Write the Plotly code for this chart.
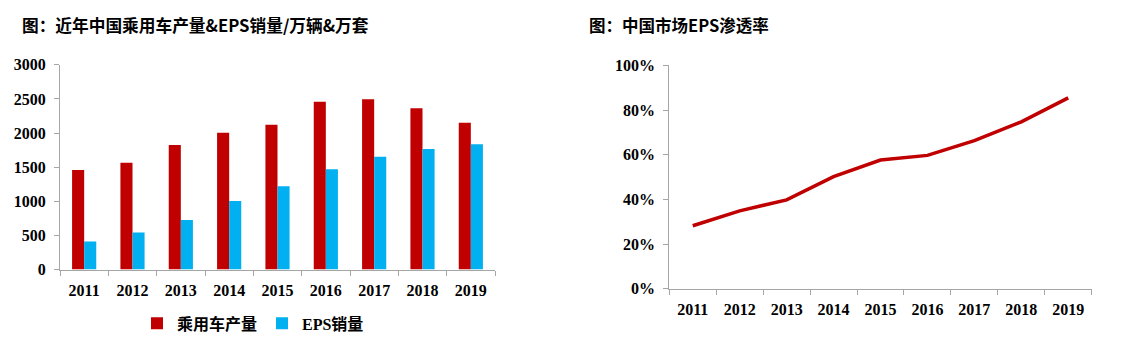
import plotly.graph_objects as go

W, H = 1143, 352

years = ["2011", "2012", "2013", "2014", "2015", "2016", "2017", "2018", "2019"]
car_production = [1460, 1566, 1825, 2005, 2121, 2457, 2496, 2365, 2150]
eps_sales = [413, 545, 725, 1003, 1221, 1470, 1654, 1766, 1835]
eps_penetration = [0.282, 0.349, 0.398, 0.502, 0.576, 0.597, 0.663, 0.747, 0.854]

left_title = "图：近年中国乘用车产量&EPS销量/万辆&万套"
right_title = "图：中国市场EPS渗透率"
legend_names = ["乘用车产量", "EPS销量"]

RED = "#C00000"
BLUE = "#00B0F0"
AXIS = "#A6A6A6"
TICKFONT = dict(family="Liberation Serif", size=16, color="#000000", weight="bold")
CJK = "Noto Sans CJK SC"

# vertical offset/scale observed in the rendered page
V_OFF, V_SCALE = 7.5, 0.955


def px_x(p):
    return p / W


def px_y(p):
    return 1 - ((p - V_OFF) / V_SCALE) / H


fig = go.Figure()
fig.add_trace(go.Bar(x=years, y=car_production, name=legend_names[0],
                     marker=dict(color=RED, line=dict(width=0)),
                     xaxis="x", yaxis="y"))
fig.add_trace(go.Bar(x=years, y=eps_sales, name=legend_names[1],
                     marker=dict(color=BLUE, line=dict(width=0)),
                     xaxis="x", yaxis="y"))
fig.add_trace(go.Scatter(x=years, y=eps_penetration, mode="lines",
                         line=dict(color=RED, width=3.5), showlegend=False,
                         xaxis="x2", yaxis="y2"))

common_x = dict(type="category", tickson="boundaries", ticks="outside", ticklen=5,
                tickcolor=AXIS, showline=True, linecolor=AXIS, linewidth=1,
                showgrid=False, zeroline=False, tickfont=TICKFONT, range=[-0.5, 8.5],
                ticklabelstandoff=6)
common_y = dict(ticks="outside", ticklen=5, tickcolor=AXIS, showline=True,
                linecolor=AXIS, linewidth=1, showgrid=False, zeroline=False,
                tickfont=TICKFONT, ticklabelstandoff=5)

fig.update_layout(
    width=W, height=H,
    margin=dict(l=0, r=0, t=0, b=0),
    paper_bgcolor="white", plot_bgcolor="white",
    barmode="group", bargap=0.5, bargroupgap=0,
    xaxis=dict(domain=[px_x(60), px_x(495)], anchor="y", **common_x),
    yaxis=dict(domain=[px_y(270), px_y(64.5)], anchor="x", range=[0, 3000],
               tickvals=[0, 500, 1000, 1500, 2000, 2500, 3000], **common_y),
    xaxis2=dict(domain=[px_x(669.3), px_x(1091.7)], anchor="y2", **common_x),
    yaxis2=dict(domain=[px_y(289.3), px_y(65)], anchor="x2", range=[0, 1],
                tickvals=[0, 0.2, 0.4, 0.6, 0.8, 1.0], tickformat=".0%", **common_y),
    legend=dict(orientation="h", x=px_x(253), xanchor="center", y=px_y(324), yanchor="middle",
                font=dict(family="Liberation Serif, " + CJK, size=16, color="#000000",
                          weight="bold"),
                itemwidth=30, traceorder="normal", bgcolor="rgba(0,0,0,0)"),
    showlegend=True,
    annotations=[
        dict(text=left_title, x=px_x(20), y=px_y(25), xref="paper", yref="paper",
             xanchor="left", yanchor="middle", showarrow=False,
             font=dict(family=CJK, size=16.7, color="#000000", weight="bold")),
        dict(text=right_title, x=px_x(587), y=px_y(25), xref="paper", yref="paper",
             xanchor="left", yanchor="middle", showarrow=False,
             font=dict(family=CJK, size=16.5, color="#000000", weight="bold")),
    ],
)

fig.write_html("out.html")
